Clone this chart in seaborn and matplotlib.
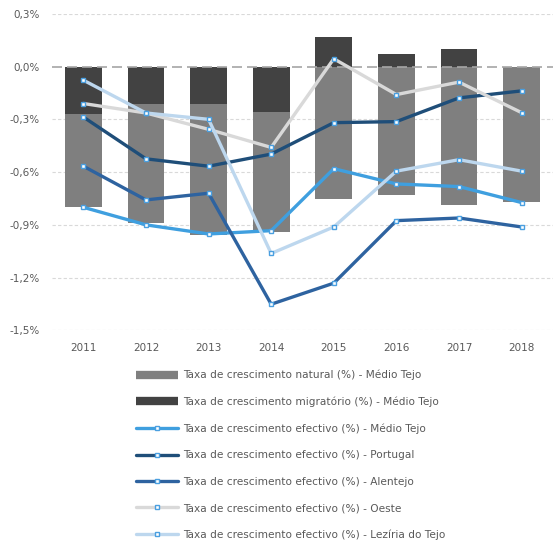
import numpy as np
import pandas as pd
import matplotlib
matplotlib.use("Agg")
import matplotlib.pyplot as plt
import seaborn as sns
from matplotlib.lines import Line2D
from matplotlib.ticker import FuncFormatter

# Data (%)
anos = ['2011', '2012', '2013', '2014', '2015', '2016', '2017', '2018']
natural_mt = [-0.53, -0.68, -0.745, -0.68, -0.75, -0.73, -0.785, -0.77]
migratorio_mt = [-0.27, -0.21, -0.21, -0.26, 0.17, 0.075, 0.10, 0.0]
efectivo_mt = [-0.80, -0.90, -0.952, -0.933, -0.58, -0.667, -0.682, -0.773]
efectivo_pt = [-0.286, -0.524, -0.566, -0.497, -0.318, -0.312, -0.177, -0.137]
efectivo_alentejo = [-0.566, -0.758, -0.72, -1.352, -1.232, -0.876, -0.861, -0.912]
efectivo_oeste = [-0.209, -0.263, -0.356, -0.459, 0.046, -0.158, -0.087, -0.261]
efectivo_leziria = [-0.076, -0.263, -0.299, -1.063, -0.912, -0.594, -0.529, -0.594]

labels = ['Taxa de crescimento natural (%) - Médio Tejo',
          'Taxa de crescimento migratório (%) - Médio Tejo',
          'Taxa de crescimento efectivo (%) - Médio Tejo',
          'Taxa de crescimento efectivo (%) - Portugal',
          'Taxa de crescimento efectivo (%) - Alentejo',
          'Taxa de crescimento efectivo (%) - Oeste',
          'Taxa de crescimento efectivo (%) - Lezíria do Tejo']

sns.set_theme(style="white")
plt.rcParams['font.family'] = ['DejaVu Sans']

fig = plt.figure(figsize=(5.54, 5.44), dpi=100)
ax = fig.add_axes([0.094, 0.393, 0.904, 0.581])

df = pd.DataFrame({'ano': anos, 'nat': natural_mt, 'mig': migratorio_mt})
# natural stacks below the migratory part when that one is negative
base = np.where(df['mig'] < 0, df['mig'], 0)

grey_nat = '#7f7f7f'
grey_mig = '#424242'
sns.barplot(data=df, x='ano', y='nat', bottom=base, color=grey_nat,
            width=0.59, saturation=1, linewidth=0, ax=ax, zorder=2)
sns.barplot(data=df, x='ano', y='mig', color=grey_mig,
            width=0.59, saturation=1, linewidth=0, ax=ax, zorder=2)

series = [(efectivo_mt, '#3f9fdf'),
          (efectivo_pt, '#1f4e79'),
          (efectivo_alentejo, '#2e63a0'),
          (efectivo_oeste, '#d9d9d9'),
          (efectivo_leziria, '#bdd7ee')]
x = np.arange(len(anos))
for vals, col in series:
    sns.lineplot(x=x, y=vals, color=col, linewidth=2.4, sort=False,
                 marker='s', markersize=3.5, markerfacecolor='white',
                 markeredgecolor='#4a9fe0', markeredgewidth=1.0, ax=ax, zorder=4)

ax.set_ylim(-1.5, 0.3)
ax.set_xlim(-0.5, 7.5)
ax.set_yticks(np.arange(-1.5, 0.31, 0.3))
ax.yaxis.set_major_formatter(FuncFormatter(lambda v, p: f'{v:.1f}%'.replace('.', ',').replace('-0,0', '0,0')))
for yv in np.arange(-1.5, 0.31, 0.3):
    if abs(yv) > 1e-9:
        ax.axhline(yv, color='#d9d9d9', linewidth=0.8, linestyle=(0, (3, 2)), zorder=0)
ax.axhline(0, color='#a6a6a6', linewidth=1.2, linestyle=(0, (6, 3)), zorder=3)

for s in ax.spines.values():
    s.set_visible(False)
ax.set_xlabel('')
ax.set_ylabel('')
ax.tick_params(axis='both', length=0, labelsize=7.5, labelcolor='#595959')
ax.tick_params(axis='y', pad=9)
ax.tick_params(axis='x', pad=9)

handles = [Line2D([], [], color=grey_nat, linewidth=6, solid_capstyle='butt'),
           Line2D([], [], color=grey_mig, linewidth=6, solid_capstyle='butt')]
for vals, col in series:
    handles.append(Line2D([], [], color=col, linewidth=2.4, marker='s', markersize=3.5,
                          markerfacecolor='white', markeredgecolor='#4a9fe0',
                          markeredgewidth=1.0))
leg = fig.legend(handles, labels, loc='upper left', bbox_to_anchor=(0.238, 0.328),
                 frameon=False, fontsize=7.6, handlelength=4.0, handletextpad=0.45,
                 labelspacing=1.55, borderaxespad=0)
for t in leg.get_texts():
    t.set_color('#595959')

fig.savefig('out.png', dpi=100)
